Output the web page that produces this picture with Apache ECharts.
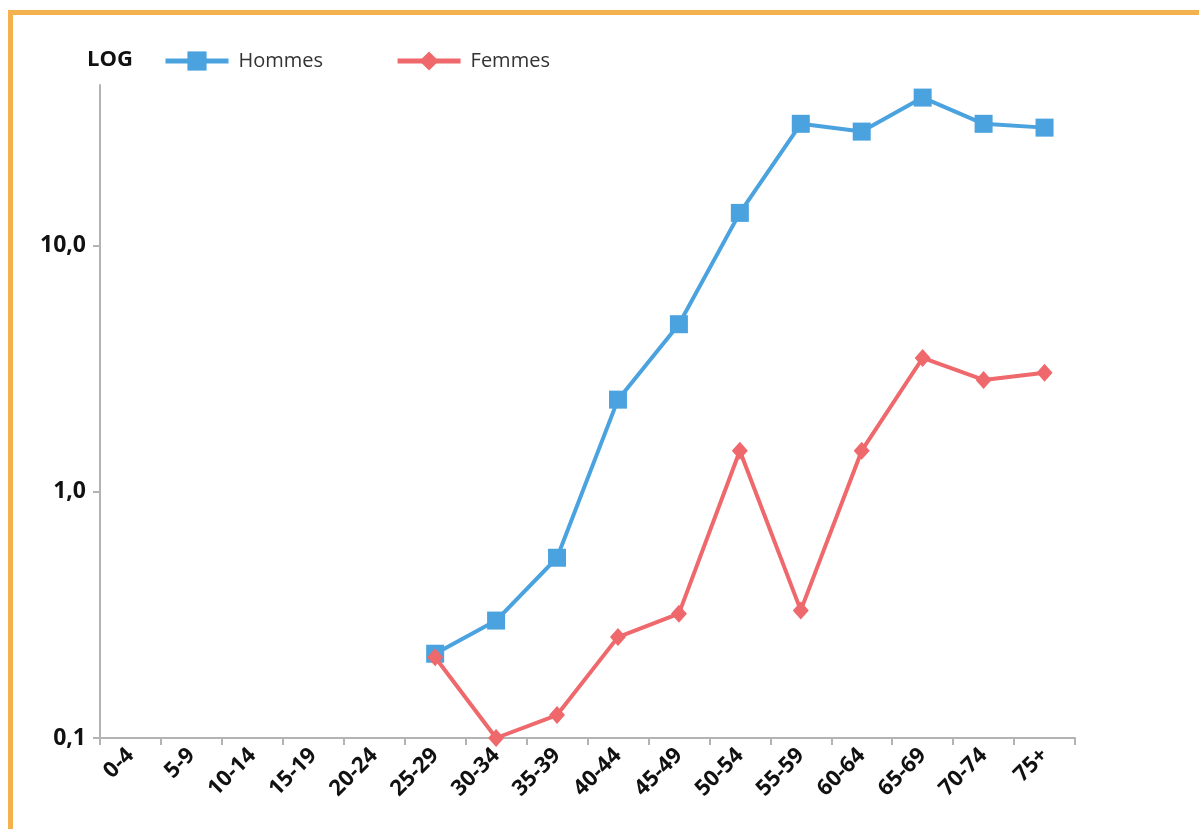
<!DOCTYPE html>
<html>
<head>
<meta charset="utf-8">
<script src="https://cdn.jsdelivr.net/npm/echarts@6/dist/echarts.min.js"></script>
<style>
html,body{margin:0;padding:0;background:#fff;overflow:hidden;}
#frame{position:absolute;left:8px;top:10px;width:1400px;height:1000px;border:5px solid #F3B24E;box-sizing:border-box;}
#chart{position:absolute;left:0;top:0;width:1199px;height:829px;}
</style>
</head>
<body>
<div id="frame"></div>
<div id="chart"></div>
<script>
const categories = ['0-4','5-9','10-14','15-19','20-24','25-29','30-34','35-39','40-44','45-49','50-54','55-59','60-64','65-69','70-74','75+'];
const hommes = ['-','-','-','-','-',0.22,0.30,0.54,2.37,4.8,13.6,31.3,29.1,40.0,31.3,30.2];
const femmes = ['-','-','-','-','-',0.213,0.10,0.124,0.257,0.32,1.47,0.33,1.47,3.5,2.85,3.05];
const yTicks = [0.1, 1, 10];
const seriesNames = ['Hommes','Femmes'];
const axisTitle = 'LOG';

const blue = '#4AA3DE';
const red = '#EE686C';
const font = '"Open Sans", sans-serif';

const chart = echarts.init(document.getElementById('chart'));
chart.setOption({
  animation: false,
  backgroundColor: 'transparent',
  grid: {left: 100, right: 124, top: 85, bottom: 91, containLabel: false},
  graphic: [{
    type: 'text', left: 87, top: 49,
    style: {text: axisTitle, font: 'bold 22px ' + font, fill: '#111'}
  }],
  legend: {
    left: 163, top: 51, padding: 0,
    itemWidth: 63, itemHeight: 24, itemGap: 72,
    lineStyle: {width: 5},
    textStyle: {fontFamily: font, fontSize: 20, color: '#333', padding: [0,0,0,5]},
    data: seriesNames
  },
  xAxis: {
    type: 'category', data: categories, boundaryGap: true,
    axisLine: {lineStyle: {color: '#b3b3b3', width: 2}},
    axisTick: {show: true, length: 7, lineStyle: {color: '#b3b3b3', width: 2}},
    axisLabel: {rotate: 45, margin: 14, fontFamily: font, fontWeight: 'bold', fontSize: 22, color: '#111', interval: 0},
    splitLine: {show: false}
  },
  yAxis: {
    type: 'log', logBase: 10, min: 0.1, max: 45,
    axisLine: {show: true, lineStyle: {color: '#b3b3b3', width: 2}},
    axisTick: {show: true, length: 7, customValues: yTicks, lineStyle: {color: '#b3b3b3', width: 2}},
    axisLabel: {customValues: yTicks, margin: 14, fontFamily: font, fontWeight: 'bold', fontSize: 23, color: '#111',
      formatter: v => Number(v).toFixed(1).replace('.', ',')},
    splitLine: {show: false}
  },
  series: [
    {name: seriesNames[0], type: 'line', data: hommes, symbol: 'rect', symbolSize: 18,
     lineStyle: {color: blue, width: 4}, itemStyle: {color: blue}, z: 2},
    {name: seriesNames[1], type: 'line', data: femmes, symbol: 'diamond', symbolSize: [16, 18],
     lineStyle: {color: red, width: 4}, itemStyle: {color: red}, z: 3}
  ]
});
</script>
</body>
</html>
